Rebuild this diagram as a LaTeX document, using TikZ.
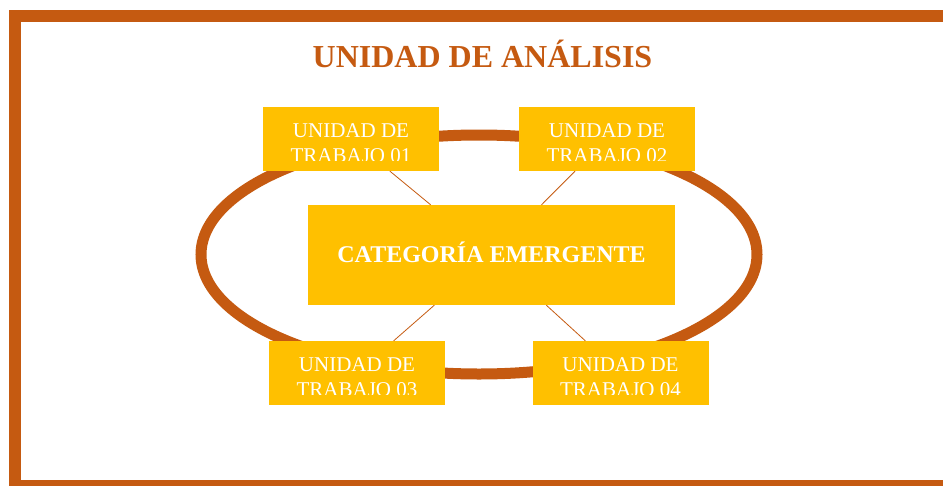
\documentclass[tikz,border=0pt]{standalone}
\usepackage{fontspec}
\setmainfont{Liberation Serif}
\usepackage{tikz}

\definecolor{naranja}{HTML}{C55A11}
\definecolor{amarillo}{HTML}{FFC000}

\begin{document}
\begin{tikzpicture}[
    x=1pt, y=-1pt,
    marco/.style={draw=naranja, line width=12pt},
    ring/.style={draw=naranja, line width=11pt},
    link/.style={draw=naranja, line width=0.8pt},
    unidad/.style={rectangle, fill=amarillo, minimum width=176pt, minimum height=64pt, inner sep=0pt},
    rotulo/.style={text=white, align=center, inner sep=0pt, font=\fontsize{21}{25}\selectfont},
    categoria/.style={rectangle, fill=amarillo, minimum width=367pt, minimum height=100pt, text=white,
        text height=15pt, text depth=0pt, font=\fontsize{24}{28}\selectfont\bfseries},
    titulo/.style={text=naranja, inner sep=0pt, font=\fontsize{32}{36}\selectfont\bfseries}
]
\useasboundingbox (0,0) rectangle (943,485);

% marco exterior
\draw[marco] (15,16) rectangle (955,486);

\node[titulo, anchor=base] (titulo) at (482.5,67.5) {UNIDAD DE ANÁLISIS};

% elipse
\draw[ring] (479,254.5) ellipse [x radius=278, y radius=119.5];

\node[categoria] (cat) at (491.5,255) {CATEGORÍA EMERGENTE};

% unidades de trabajo
\foreach \n/\x/\y/\t in {u1/351/139/01, u2/607/139/02, u3/357/373/03, u4/620.5/373/04} {
  \node[unidad] (\n) at (\x,\y) {};
  \begin{scope}
    \clip (\n.north west) rectangle ([yshift=10.7pt]\n.south east);
    \node[rotulo, anchor=north] (\n-txt) at ([yshift=-16.6pt]\n.north) {UNIDAD DE\\TRABAJO \t};
  \end{scope}
}

\foreach \n in {u1,u2,u3,u4}
  \draw[link] (cat) -- (\n);

\end{tikzpicture}
\end{document}
